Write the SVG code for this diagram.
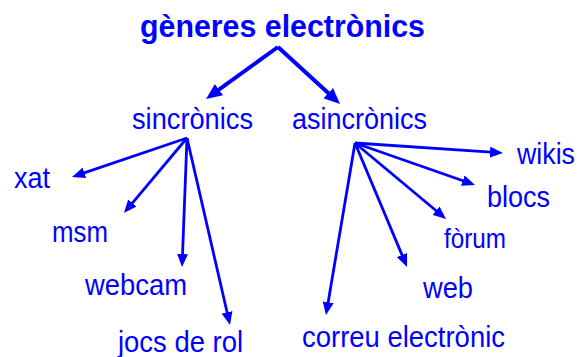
<svg xmlns="http://www.w3.org/2000/svg" width="588" height="357" viewBox="0 0 588 357">
<defs>
<style>
text{font-family:"Liberation Sans",Arial,sans-serif;fill:#0000ff}
.t{font-size:31px;font-weight:bold}
.n{font-size:29.5px}
.s{font-size:27px}
.c line{stroke:#0000ff;stroke-width:2.8;marker-end:url(#ah)}
.c line.big{stroke-width:4;marker-end:url(#ahb)}
</style>
<marker id="ah" markerUnits="userSpaceOnUse" markerWidth="13" markerHeight="11" refX="1" refY="5.5" orient="auto"><path d="M0,0 L13,5.5 L0,11 z" fill="#0000ff"/></marker>
<marker id="ahb" markerUnits="userSpaceOnUse" markerWidth="16" markerHeight="14" refX="1" refY="7" orient="auto"><path d="M0,0 L16,7 L0,14 z" fill="#0000ff"/></marker>
</defs>
<rect width="588" height="357" fill="#fff"/>
<g class="c" id="connectors">
<line class="big" x1="278" y1="47" x2="218.2" y2="90.2"/>
<line class="big" x1="278" y1="47" x2="329" y2="93.8"/>
<line x1="187" y1="138" x2="83.4" y2="173.1"/>
<line x1="187" y1="138" x2="131.7" y2="203.8"/>
<line x1="187" y1="138" x2="182.5" y2="255"/>
<line x1="187" y1="138" x2="227.3" y2="313.3"/>
<line x1="355" y1="143" x2="491" y2="152.2"/>
<line x1="355" y1="143" x2="463.7" y2="181"/>
<line x1="355" y1="143" x2="436.8" y2="211.3"/>
<line x1="355" y1="143" x2="402.4" y2="255.9"/>
<line x1="355" y1="143" x2="328" y2="303.2"/>
</g>
<g id="title"><text class="t" x="140" y="37" textLength="285" lengthAdjust="spacingAndGlyphs">gèneres electrònics</text></g>
<g id="sincronics"><text class="n" x="132" y="129" textLength="121" lengthAdjust="spacingAndGlyphs">sincrònics</text></g>
<g id="asincronics"><text class="n" x="292" y="129" textLength="135" lengthAdjust="spacingAndGlyphs">asincrònics</text></g>
<g id="xat"><text class="n" x="14" y="188" textLength="36" lengthAdjust="spacingAndGlyphs">xat</text></g>
<g id="msm"><text class="n" x="52" y="242" textLength="56" lengthAdjust="spacingAndGlyphs">msm</text></g>
<g id="webcam"><text class="n" x="85" y="295" textLength="102" lengthAdjust="spacingAndGlyphs">webcam</text></g>
<g id="jocs"><text class="n" x="118" y="352" textLength="125" lengthAdjust="spacingAndGlyphs">jocs de rol</text></g>
<g id="wikis"><text class="n" x="517" y="164" textLength="58" lengthAdjust="spacingAndGlyphs">wikis</text></g>
<g id="blocs"><text class="n" x="487" y="207" textLength="63" lengthAdjust="spacingAndGlyphs">blocs</text></g>
<g id="forum"><text class="s" x="444" y="248" textLength="62" lengthAdjust="spacingAndGlyphs">fòrum</text></g>
<g id="web"><text class="n" x="423" y="298" textLength="50" lengthAdjust="spacingAndGlyphs">web</text></g>
<g id="correu"><text class="n" x="302" y="347" textLength="203" lengthAdjust="spacingAndGlyphs">correu electrònic</text></g>
</svg>
